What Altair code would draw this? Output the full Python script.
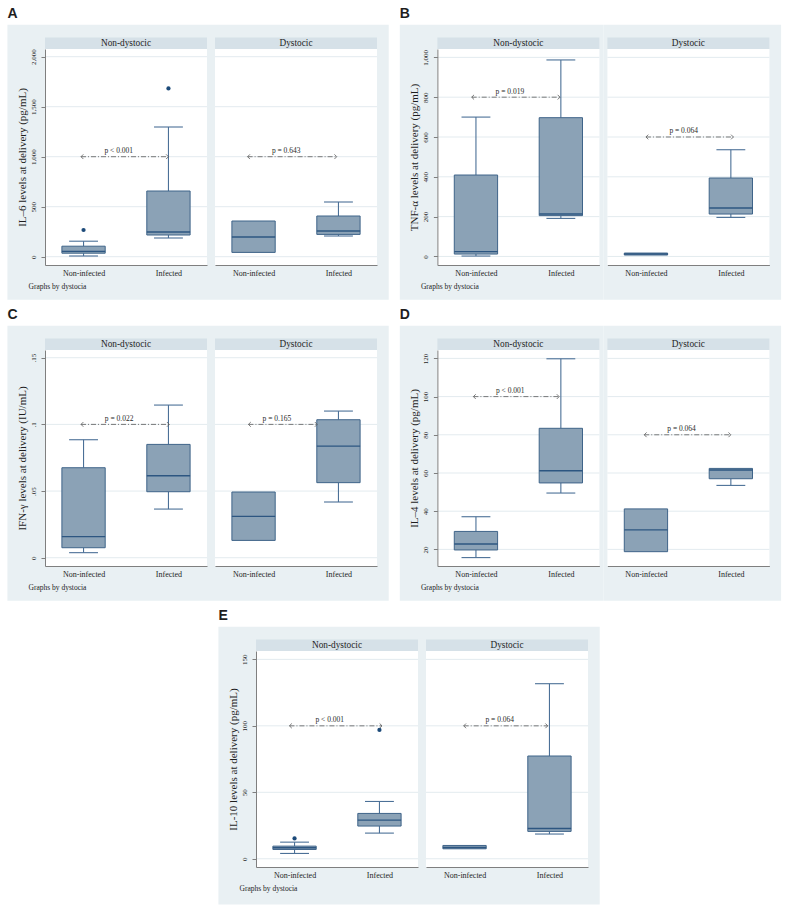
import altair as alt
import pandas as pd

strata = ["Non-dystocic", "Dystocic"]
groups = ["Non-infected", "Infected"]

# Box statistics; each list runs Non-dystocic/Non-infected, Non-dystocic/Infected,
# Dystocic/Non-infected, Dystocic/Infected. None = no whisker beyond the box.
il6_low = [7, 187, None, 207]
il6_q1 = [35, 217, 43, 223]
il6_med = [53, 247, 197, 257]
il6_q3 = [105, 657, 357, 407]
il6_high = [155, 1297, None, 547]
il6_out_box = [0, 1]
il6_out_val = [267, 1683]
il6_p = ["p < 0.001", "p = 0.643"]
il6_p_at = [1000, 1000]
il6_arrow_from = [-0.03, -0.07]
il6_arrow_to = [1.0, 0.98]
il6_ticks = [0, 500, 1000, 1500, 2000]
il6_tick_labels = ["0", "500", "1,000", "1,500", "2,000"]

tnf_low = [2, 191, None, 196]
tnf_q1 = [12, 205, 7, 213]
tnf_med = [24, 213, 12, 243]
tnf_q3 = [409, 697, 17, 394]
tnf_high = [700, 987, None, 536]
tnf_p = ["p = 0.019", "p = 0.064"]
tnf_p_at = [800, 600]
tnf_arrow_from = [-0.05, 0.0]
tnf_arrow_to = [0.99, 1.03]
tnf_ticks = [0, 200, 400, 600, 800, 1000]
tnf_tick_labels = ["0", "200", "400", "600", "800", "1,000"]

ifn_low = [0.0038, 0.0365, None, 0.0418]
ifn_q1 = [0.0075, 0.0495, 0.013, 0.0563]
ifn_med = [0.0158, 0.0615, 0.031, 0.0837]
ifn_q3 = [0.0675, 0.085, 0.0493, 0.1035]
ifn_high = [0.0885, 0.1145, None, 0.11]
ifn_p = ["p = 0.022", "p = 0.165"]
ifn_p_at = [0.1, 0.1]
ifn_arrow_from = [-0.03, -0.06]
ifn_arrow_to = [1.01, 0.75]
ifn_ticks = [0, 0.05, 0.1, 0.15]
ifn_tick_labels = ["0", ".05", ".1", ".15"]

il4_low = [15.7, 49.5, None, 53.5]
il4_q1 = [19.7, 54.8, 18.8, 57.0]
il4_med = [22.8, 61.2, 30.2, 61.6]
il4_q3 = [29.4, 83.4, 41.2, 62.4]
il4_high = [37.1, 119.8, None, None]
il4_p = ["p < 0.001", "p = 0.064"]
il4_p_at = [100, 80]
il4_arrow_from = [-0.03, -0.02]
il4_arrow_to = [0.98, 1.0]
il4_ticks = [20, 40, 60, 80, 100, 120]
il4_tick_labels = ["20", "40", "60", "80", "100", "120"]

il10_low = [4.0, 19.3, None, 18.6]
il10_q1 = [7.0, 24.6, 7.5, 20.6]
il10_med = [8.3, 29.1, 8.5, 22.8]
il10_q3 = [9.5, 34.1, 10.0, 77.3]
il10_high = [12.5, 43.1, None, 131.7]
il10_out_box = [0, 1]
il10_out_val = [15.3, 96.9]
il10_p = ["p < 0.001", "p = 0.064"]
il10_p_at = [100, 100]
il10_arrow_from = [-0.06, -0.01]
il10_arrow_to = [1.03, 0.98]
il10_ticks = [0, 50, 100, 150]
il10_tick_labels = ["0", "50", "100", "150"]

# ---- styling ----
W, H = 162, 216
XS = alt.Scale(domain=[-0.454, 1.454], nice=False, zero=False)
BOX_HW, CAP_HW = 0.255, 0.17
BG, STRIP, GRID = "#e9f0f3", "#d6e1e8", "#e3ebef"
BOX_FILL, BOX_LINE, MED, WHISK, DOT = "#8ba2b6", "#3f6489", "#2d5681", "#4b7097", "#1c4a79"
AXIS_C, TXT = "#7f7f7f", "#1e1e1e"
SERIF, SANS = "Liberation Serif", "Liberation Sans"
LEFT_PATH = "M1,-1L0,0L1,1"
RIGHT_PATH = "M-1,-1L0,0L-1,1"

one = pd.DataFrame({"k": [0]})


def rect(x0, x1, y0, y1, color):
    return alt.Chart(one).mark_rect(fill=color, strokeWidth=0).encode(
        x=alt.value(x0), x2=alt.value(x1), y=alt.value(y0), y2=alt.value(y1))


def label(text, x, y, size, font=SERIF, align="center", baseline="middle", weight="normal"):
    return alt.Chart(one).mark_text(
        text=text, font=font, fontSize=size, fontWeight=weight, color=TXT,
        align=align, baseline=baseline).encode(x=alt.value(x), y=alt.value(y))


def cond_expr(vals, labs):
    expr = "''"
    for v, lab in reversed(list(zip(vals, labs))):
        expr = f"abs(datum.value - ({v})) < 1e-9 ? '{lab}' : " + expr
    return expr


def panel(letter, title, ticks, tick_labels, domain, low, q1, med, q3, high,
          p_text, p_at, a_from, a_to, out_box=(), out_val=(), bottom=34.7):
    ys = alt.Scale(domain=domain, nice=False, zero=False)
    yaxis = alt.Axis(
        values=ticks, labelExpr=cond_expr(ticks, tick_labels), grid=False,
        domainColor=AXIS_C, tickColor=AXIS_C, tickSize=4, labelFont=SERIF,
        labelFontSize=7, labelColor=TXT, labelAngle=270, labelAlign="center",
        labelBaseline="bottom", labelPadding=4.5, labelOverlap=False,
        title=title, titleFont=SERIF, titleFontSize=11, titleFontWeight="normal",
        titleColor=TXT, titleAngle=270, titleX=-22.6, titleY=H / 2,
        titleAlign="center", titleBaseline="middle", zindex=1)
    xaxis = alt.Axis(
        values=[0, 1], labelExpr=cond_expr([0, 1], groups), title=None, ticks=False,
        grid=False, domainColor=AXIS_C, labelFont=SERIF, labelFontSize=8,
        labelColor=TXT, labelPadding=4, labelBaseline="top", labelOverlap=False,
        zindex=1)

    cells = []
    for s in range(2):
        ya = yaxis if s == 0 else None

        def X(f):
            return alt.X(f, scale=XS, axis=xaxis)

        def Y(f):
            return alt.Y(f, scale=ys, axis=ya)

        idx = [2 * s, 2 * s + 1]
        box = pd.DataFrame({
            "pos": [0, 1],
            "low": [low[i] for i in idx],
            "q1": [q1[i] for i in idx],
            "med": [med[i] for i in idx],
            "q3": [q3[i] for i in idx],
            "high": [high[i] for i in idx],
        })
        left = 37.6 if s == 0 else 4
        right = 4 if s == 0 else 11.7
        layers = []
        if s == 0:
            layers.append(rect(-left, -left + 10, -48.3, -24.3, "white"))
        layers.append(rect(-left, W + right, -24.3, H + bottom, BG))
        layers.append(rect(0, W, 0, H, "white"))
        layers.append(
            alt.Chart(pd.DataFrame({"v": ticks})).mark_rule(color=GRID, strokeWidth=1).encode(
                y=Y("v:Q"), x=alt.value(0), x2=alt.value(W)))
        layers.append(rect(0, W, -11.6, 0, STRIP))
        layers.append(label(strata[s], W / 2, -5.8, 9.3))

        # whiskers and caps
        for lo_f, hi_f, cap_f, test in [("q3", "high", "high", "isValid(datum.high)"),
                                        ("low", "q1", "low", "isValid(datum.low)")]:
            base = alt.Chart(box).transform_filter(test)
            layers.append(base.mark_rule(color=WHISK, strokeWidth=1.1).encode(
                x=X("pos:Q"), y=Y(f"{lo_f}:Q"), y2=f"{hi_f}:Q"))
            layers.append(base.transform_calculate(
                cl=f"datum.pos - {CAP_HW}", cr=f"datum.pos + {CAP_HW}"
            ).mark_rule(color=WHISK, strokeWidth=1.1).encode(
                x=X("cl:Q"), x2="cr:Q", y=Y(f"{cap_f}:Q")))

        # boxes and medians
        spans = alt.Chart(box).transform_calculate(
            xl=f"datum.pos - {BOX_HW}", xr=f"datum.pos + {BOX_HW}")
        layers.append(spans.mark_rect(fill=BOX_FILL, stroke=BOX_LINE, strokeWidth=1).encode(
            x=X("xl:Q"), x2="xr:Q", y=Y("q1:Q"), y2="q3:Q"))
        layers.append(spans.mark_rule(color=MED, strokeWidth=1.4).encode(
            x=X("xl:Q"), x2="xr:Q", y=Y("med:Q")))

        # outside values
        pts = [(b % 2, v) for b, v in zip(out_box, out_val) if b // 2 == s]
        if pts:
            layers.append(alt.Chart(pd.DataFrame(pts, columns=["pos", "v"])).mark_circle(
                color=DOT, size=18, opacity=1).encode(x=X("pos:Q"), y=Y("v:Q")))

        # comparison arrow with p-value
        arrow = pd.DataFrame({"x0": [a_from[s]], "x1": [a_to[s]], "y": [p_at[s]],
                              "xm": [(a_from[s] + a_to[s]) / 2], "t": [p_text[s]]})
        layers.append(alt.Chart(arrow).mark_rule(
            color="#5a5a5a", strokeWidth=0.8, strokeDash=[5, 2, 1, 2]).encode(
            x=X("x0:Q"), x2="x1:Q", y=Y("y:Q")))
        heads = pd.DataFrame({"x": [a_from[s], a_to[s]], "y": [p_at[s]] * 2,
                              "side": ["l", "r"]})
        layers.append(alt.Chart(heads).mark_point(
            filled=False, size=22, strokeWidth=0.8, color="#5a5a5a", opacity=1).encode(
            x=X("x:Q"), y=Y("y:Q"),
            shape=alt.Shape("side:N", scale=alt.Scale(domain=["l", "r"],
                                                      range=[LEFT_PATH, RIGHT_PATH]),
                            legend=None)))
        layers.append(alt.Chart(arrow).mark_text(
            font=SERIF, fontSize=7.5, color="#2a2a2a", dx=-6, dy=-3.5,
            baseline="alphabetic").encode(x=X("xm:Q"), y=Y("y:Q"), text="t:N"))

        if s == 0:
            layers.append(label("Graphs by dystocia", -16.5, H + 21.7, 7.5, align="left"))
            layers.append(label(letter, -left, -31, 14, font=SANS, align="left",
                                baseline="alphabetic", weight="bold"))
        cells.append(alt.layer(*layers).properties(width=W, height=H))
    return alt.hconcat(*cells, spacing=0)


pa = panel("A", "IL–6 levels at delivery (pg/mL)", il6_ticks, il6_tick_labels, [-83, 2077],
           il6_low, il6_q1, il6_med, il6_q3, il6_high, il6_p, il6_p_at,
           il6_arrow_from, il6_arrow_to, il6_out_box, il6_out_val)
pb = panel("B", "TNF-α levels at delivery (pg/mL)", tnf_ticks, tnf_tick_labels, [-43, 1042],
           tnf_low, tnf_q1, tnf_med, tnf_q3, tnf_high, tnf_p, tnf_p_at,
           tnf_arrow_from, tnf_arrow_to)
pc = panel("C", "IFN-γ levels at delivery (IU/mL)", ifn_ticks, ifn_tick_labels, [-0.0062, 0.1558],
           ifn_low, ifn_q1, ifn_med, ifn_q3, ifn_high, ifn_p, ifn_p_at,
           ifn_arrow_from, ifn_arrow_to)
pd_ = panel("D", "IL–4 levels at delivery (pg/mL)", il4_ticks, il4_tick_labels, [11.3, 124.4],
            il4_low, il4_q1, il4_med, il4_q3, il4_high, il4_p, il4_p_at,
            il4_arrow_from, il4_arrow_to)
pe = panel("E", "IL-10 levels at delivery (pg/mL)", il10_ticks, il10_tick_labels, [-6.2, 156.3],
           il10_low, il10_q1, il10_med, il10_q3, il10_high, il10_p, il10_p_at,
           il10_arrow_from, il10_arrow_to, il10_out_box, il10_out_val, bottom=37.4)

# blank block that indents the last panel
indent = alt.Chart(one).mark_rect(fill="white", strokeWidth=0).encode(
    x=alt.value(0), x2=alt.value(172.5), y=alt.value(0), y2=alt.value(1)
).properties(width=172.5, height=1)

chart = alt.vconcat(
    alt.hconcat(pa, pb, spacing=10.4),
    alt.hconcat(pc, pd_, spacing=10.4),
    alt.hconcat(indent, pe, spacing=0),
    spacing=1,
).properties(
    padding={"left": 7, "top": 0, "right": 0, "bottom": 0},
    background="white",
).configure_view(stroke=None)

chart.save("out.html", embed_options={"renderer": "svg", "actions": False})
